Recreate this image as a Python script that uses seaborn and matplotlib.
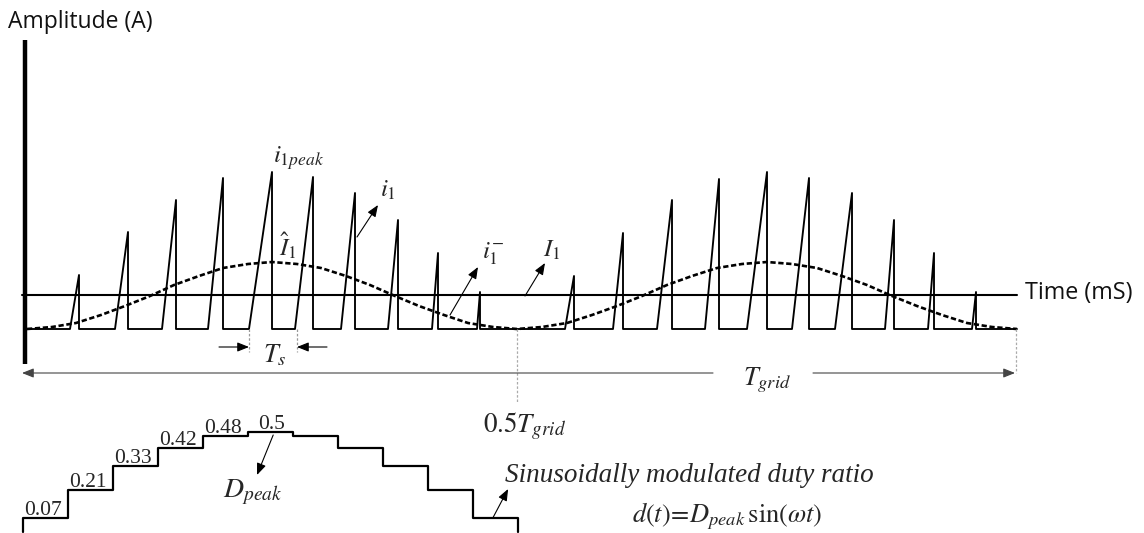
import matplotlib
matplotlib.use("Agg")
import pandas as pd
import matplotlib.pyplot as plt
import seaborn as sns

# Inductor current waveform (canvas units, y grows downwards)
baseline = 329
time_axis = 295
wave_start, wave_end = 27, 1017
ramp_start = [70, 115, 162, 208, 249, 295, 341, 388, 432, 477,
              565, 613, 657, 705, 747, 792, 835, 885, 928, 972]
peak_t = [79, 128, 176, 223, 272, 313, 355, 398, 438, 480,
          574, 623, 672, 719, 767, 809, 852, 894, 934, 976]
peak_i = [275, 232, 200, 178, 172, 177, 193, 220, 253, 292,
          276, 233, 200, 179, 172, 178, 193, 220, 253, 292]

# dashed envelope (I1 hat), two humps
env_t = [27, 52, 76, 101, 125, 150, 174, 199, 223, 248, 272, 297, 321, 346, 370,
         395, 419, 444, 468, 493, 517, 542, 567, 592, 617, 642, 667, 692, 717,
         742, 767, 792, 817, 842, 867, 892, 917, 942, 967, 992, 1017]
env_i = [329, 327, 323, 315, 306, 296, 285, 276, 268, 264, 262, 264, 268, 276,
         285, 296, 306, 315, 323, 327, 329, 327, 323, 315, 306, 296, 285, 276,
         268, 264, 262, 264, 268, 276, 285, 296, 306, 315, 323, 327, 329]

# duty ratio staircase
duty = [0.07, 0.21, 0.33, 0.42, 0.48, 0.5, 0.48, 0.42, 0.33, 0.21, 0.07]
duty_labels = ["0.07", "0.21", "0.33", "0.42", "0.48", "0.5"]

sns.set_theme(style="white")
plt.rcParams["font.family"] = ["Open Sans", "DejaVu Sans"]
plt.rcParams["mathtext.fontset"] = "stix"

fig = plt.figure(figsize=(11.44, 5.33), dpi=100)
ax = fig.add_axes([0, 0, 1, 1])
ax.set_xlim(0, 1144)
ax.set_ylim(533, 0)
ax.axis("off")

# build the sawtooth path
wt, wi = [wave_start], [baseline]
for rs, pt, pi in zip(ramp_start, peak_t, peak_i):
    wt += [rs, pt, pt]
    wi += [baseline, pi, baseline]
wt.append(wave_end)
wi.append(baseline)
wave = pd.DataFrame({"t": wt, "i": wi})
env = pd.DataFrame({"t": env_t, "i": env_i})

sns.lineplot(data=wave, x="t", y="i", sort=False, estimator=None,
             color="black", lw=1.35, ax=ax)
sns.lineplot(data=env, x="t", y="i", sort=False, estimator=None,
             color="black", lw=1.9, linestyle=(0, (2, 1)), ax=ax)

# axes lines
ax.plot([22, wave_end], [time_axis, time_axis], color="black", lw=1.5)
ax.plot([25, 25], [40, 364], color="black", lw=3.2, solid_capstyle="butt")
ax.text(8, 22, "Amplitude (A)", fontsize=16.5, ha="left", va="center", color="#111")
ax.text(1025, 293, "Time (mS)", fontsize=16.8, ha="left", va="center", color="#111")

arrow = dict(arrowstyle="-|>,head_length=0.5,head_width=0.2", color="black",
             lw=0.8, shrinkA=0, shrinkB=0, mutation_scale=14)
grey_arrow = dict(arrow, color="#444")

# labels on waveform
mfs = 18
ax.text(273, 163, r"$i_{1peak}$", fontsize=mfs, va="baseline")
ax.text(380, 197, r"$i_1$", fontsize=mfs, va="baseline")
ax.annotate("", xy=(378, 205), xytext=(357, 237), arrowprops=arrow)
ax.text(279, 256, r"$\hat{I}_1$", fontsize=mfs, va="baseline")
ax.text(482, 258, r"$i_1^{-}$", fontsize=mfs, va="baseline")
ax.annotate("", xy=(478, 267), xytext=(450, 315), arrowprops=arrow)
ax.text(543, 257, r"$I_1$", fontsize=mfs, va="baseline")
ax.annotate("", xy=(545, 263), xytext=(525, 296), arrowprops=arrow)

# Ts marker
for xv in (249, 297):
    ax.plot([xv, xv], [baseline, 352], color="#999", lw=0.9, linestyle=(0, (2, 1.5)))
ax.annotate("", xy=(249, 347), xytext=(219, 347), arrowprops=arrow)
ax.annotate("", xy=(297, 347), xytext=(327, 347), arrowprops=arrow)
ax.text(263, 362, r"$T_s$", fontsize=19, va="baseline")

# Tgrid marker
ax.plot([517, 517], [baseline, 402], color="#aaa", lw=0.9, linestyle=(0, (2, 1.5)))
ax.plot([1016, 1016], [baseline, 373], color="#aaa", lw=0.9, linestyle=(0, (2, 1.5)))
ax.annotate("", xy=(22, 373), xytext=(713, 373), arrowprops=grey_arrow)
ax.annotate("", xy=(1015, 373), xytext=(813, 373), arrowprops=grey_arrow)
ax.text(743, 385, r"$T_{grid}$", fontsize=19, va="baseline")
ax.text(483, 432, r"$0.5T_{grid}$", fontsize=19.5, va="baseline")

ax.text(505, 482, "Sinusoidally modulated duty ratio", fontsize=19.5,
        family="Liberation Serif", style="italic", va="baseline")
ax.text(632, 522, r"$d(t)\!=\!D_{peak}\,\mathrm{sin}(\omega t)$", fontsize=19,
        va="baseline")

# staircase of duty ratio
ax2 = fig.add_axes([23 / 1144, 1 / 533, 495 / 1144, 100 / 533])
ax2.set_xlim(0, len(duty))
ax2.set_ylim(0, 0.5)
ax2.axis("off")
stair = pd.DataFrame({"k": [0] + list(range(len(duty))) + [len(duty), len(duty)],
                      "d": [0] + duty + [duty[-1], 0]})
sns.lineplot(data=stair, x="k", y="d", sort=False, estimator=None,
             drawstyle="steps-post", color="black", lw=1.6, ax=ax2, clip_on=False)
for k, lab in enumerate(duty_labels):
    xoff = 0.22 if lab == "0.5" else 0.02
    ax2.annotate(lab, xy=(k + xoff, duty[k]), xytext=(0, 2), textcoords="offset points",
                 fontsize=15.5, family="Liberation Serif", va="baseline", ha="left",
                 annotation_clip=False)
ax2.annotate("", xy=(5.2, 0.285), xytext=(5.56, 0.485), arrowprops=arrow,
             annotation_clip=False)
ax2.text(4.45, 0.175, r"$D_{peak}$", fontsize=20, va="baseline")
ax2.annotate("", xy=(10.78, 0.215), xytext=(10.44, 0.07), arrowprops=arrow,
             annotation_clip=False)

fig.savefig("out.png", dpi=100)
